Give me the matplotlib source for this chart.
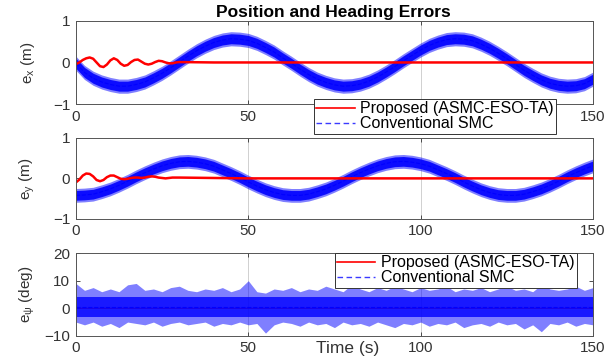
import numpy as np
import matplotlib
matplotlib.use('Agg')
import matplotlib.pyplot as plt
from matplotlib.lines import Line2D

plt.rcParams['font.family'] = ['Liberation Sans', 'DejaVu Sans']
plt.rcParams['mathtext.fontset'] = 'custom'
plt.rcParams['mathtext.rm'] = 'Liberation Sans'

# ---- data ----
# conventional SMC, centre of the noisy trace every 2.5 s
t_smc = np.arange(0, 150.1, 2.5)
ex_smc = [-0.02, -0.24, -0.38, -0.47, -0.53, -0.57, -0.57, -0.53, -0.47, -0.37,
          -0.26, -0.13, 0.01, 0.15, 0.28, 0.39, 0.48, 0.54, 0.57, 0.56,
          0.53, 0.46, 0.36, 0.25, 0.11, -0.02, -0.16, -0.29, -0.40, -0.48,
          -0.54, -0.57, -0.56, -0.52, -0.45, -0.35, -0.23, -0.10, 0.04, 0.17,
          0.30, 0.41, 0.49, 0.55, 0.57, 0.56, 0.52, 0.44, 0.34, 0.22,
          0.09, -0.05, -0.19, -0.31, -0.42, -0.50, -0.55, -0.57, -0.56, -0.51,
          -0.40]
ey_smc = [-0.42, -0.41, -0.39, -0.33, -0.26, -0.17, -0.07, 0.04, 0.14, 0.23,
          0.31, 0.37, 0.41, 0.42, 0.40, 0.36, 0.30, 0.21, 0.12, 0.02,
          -0.09, -0.19, -0.28, -0.35, -0.40, -0.42, -0.42, -0.39, -0.33, -0.26,
          -0.17, -0.07, 0.04, 0.14, 0.23, 0.31, 0.37, 0.41, 0.42, 0.40,
          0.36, 0.30, 0.21, 0.12, 0.02, -0.09, -0.19, -0.28, -0.35, -0.40,
          -0.42, -0.42, -0.39, -0.33, -0.26, -0.17, -0.07, 0.04, 0.14, 0.23,
          0.31]
pos_spread = 0.12   # half width of the dense noise band (m)
pos_spike = 0.17    # half width of occasional spikes (m)

# heading error envelope of the SMC trace (deg)
psi_hi = [9.0, 6.5, 7.5, 6.0, 7.0, 6.0, 8.5, 9.0, 6.5, 7.0,
          6.0, 7.5, 8.0, 6.5, 6.0, 7.0, 6.5, 7.5, 6.0, 7.0,
          10.0, 6.0, 5.5, 7.0, 6.5, 7.5, 6.0, 7.0, 6.5, 8.0,
          7.0, 6.0, 8.5, 7.0, 6.0, 7.5, 6.5, 8.0, 7.0, 6.0,
          7.5, 6.5, 7.0, 8.0, 6.0, 7.0, 6.5, 7.5, 6.0, 7.0,
          8.0, 6.5, 7.0, 6.0, 8.5, 7.0, 6.5, 7.0, 8.0, 6.5,
          7.5]
psi_lo = [-5.0, -6.0, -5.0, -6.5, -5.5, -7.0, -5.0, -5.5, -6.0, -5.0,
          -6.5, -5.5, -5.0, -6.0, -5.5, -5.0, -6.5, -5.5, -6.0, -5.0,
          -6.0, -5.5, -9.0, -6.0, -5.0, -5.5, -6.5, -5.0, -6.0, -5.5,
          -7.0, -5.0, -6.0, -5.5, -6.5, -5.0, -6.0, -7.0, -5.5, -6.0,
          -5.0, -6.5, -5.5, -6.0, -5.0, -7.0, -6.0, -5.5, -6.5, -5.0,
          -6.0, -5.5, -7.5, -6.0, -8.5, -5.5, -6.0, -5.0, -6.5, -5.5,
          -6.0]
psi_core_hi = 4.0
psi_core_lo = -3.0
psi_smc = 0.5

# proposed ASMC-ESO-TA, 1 s steps over the transient then sparse
t_prop = [0, 1, 2, 3, 4, 5, 6, 7, 8, 9, 10, 11, 12, 13, 14, 15, 16, 17, 18, 19,
          20, 21, 22, 23, 24, 25, 26, 27, 28, 29, 30, 40, 50, 60, 70, 80, 90,
          100, 110, 120, 130, 140, 150]
ex_prop = [-0.04, 0.0, 0.06, 0.10, 0.12, 0.09, 0.0, -0.09, -0.11, -0.05,
           0.05, 0.10, 0.06, -0.03, -0.08, -0.06, 0.01, 0.06, 0.07, 0.02,
           -0.03, -0.05, -0.03, 0.01, 0.04, 0.03, 0.0, -0.02, -0.02, 0.0,
           0.01, 0.0, 0.0, 0.0, 0.0, 0.0, 0.0, 0.0, 0.0, 0.0, 0.0, 0.0, 0.0]
ey_prop = [-0.10, -0.03, 0.07, 0.12, 0.11, 0.05, -0.04, -0.07, -0.04, 0.03,
           0.07, 0.07, 0.03, -0.01, -0.02, -0.01, 0.01, 0.02, 0.02, 0.01,
           0.02, 0.04, 0.05, 0.04, 0.02, 0.01, 0.0, 0.01, 0.02, 0.02,
           0.02, 0.01, 0.0, 0.0, 0.0, 0.0, 0.0, 0.0, 0.0, 0.0, 0.0, 0.0, 0.0]
psi_prop = [0.5, 0.0, 0.0, 0.0, 0.0, 0.0, 0.0, 0.0, 0.0, 0.0,
            0.0, 0.0, 0.0, 0.0, 0.0, 0.0, 0.0, 0.0, 0.0, 0.0,
            0.0, 0.0, 0.0, 0.0, 0.0, 0.0, 0.0, 0.0, 0.0, 0.0,
            0.0, 0.0, 0.0, 0.0, 0.0, 0.0, 0.0, 0.0, 0.0, 0.0, 0.0, 0.0, 0.0]

# ---- figure ----
fig = plt.figure(figsize=(6.12, 3.6), dpi=100)
ax1 = fig.add_axes([0.124, 0.711, 0.845, 0.231])
ax2 = fig.add_axes([0.124, 0.392, 0.845, 0.225])
ax3 = fig.add_axes([0.124, 0.067, 0.845, 0.230])

blue = (0, 0, 1)
red = (1, 0, 0)


def style(ax, ylim, yticks, ylabel):
    ax.set_xlim(0, 150)
    ax.set_ylim(*ylim)
    ax.set_xticks([0, 50, 100, 150])
    ax.set_yticks(yticks)
    ax.tick_params(direction='in', length=3, width=0.6, top=True, right=True,
                   labelsize=11, colors='#333333', pad=4)
    ax.grid(axis='x', color='#d0d0d0', lw=0.7)
    ax.set_axisbelow(True)
    for s in ax.spines.values():
        s.set_color('#555555')
        s.set_linewidth(0.7)
    ax.set_ylabel(ylabel, fontsize=11, color='#333333')
    ax.yaxis.set_label_coords(-0.075, 0.5)


for ax, smc, prop in [(ax1, ex_smc, ex_prop), (ax2, ey_smc, ey_prop)]:
    smc = np.array(smc)
    ax.fill_between(t_smc, smc - pos_spike, smc + pos_spike, color=blue,
                    alpha=0.5, lw=0)
    ax.fill_between(t_smc, smc - pos_spread, smc + pos_spread, color=blue,
                    alpha=0.9, lw=0)
    ax.plot(t_smc, smc, '--', color=blue, lw=0.8)
    ax.plot(t_prop, prop, '-', color=red, lw=1.8)

# heading: the proposed trace sits underneath the SMC noise
ax3.plot(t_prop, psi_prop, '-', color=red, lw=0.8, zorder=1)
ax3.fill_between(t_smc, psi_lo, psi_hi, color=blue, alpha=0.5, lw=0,
                 zorder=2)
ax3.fill_between(t_smc, psi_core_lo, psi_core_hi, color=blue, alpha=0.8,
                 lw=0, zorder=2)
ax3.plot(t_smc, np.full(len(t_smc), psi_smc), '--', color=blue, lw=0.8,
         zorder=2)

style(ax1, (-1, 1), [-1, 0, 1], r'$\mathregular{e_x}$ (m)')
style(ax2, (-1, 1), [-1, 0, 1], r'$\mathregular{e_y}$ (m)')
style(ax3, (-10, 20), [-10, 0, 10, 20], r'$\mathregular{e_\psi}$ (deg)')
# the top legend covers the "100" label of the first panel
ax1.set_xticklabels(['0', '50', '', '150'])

# legend entries drawn with thin lines
handles = [Line2D([], [], color=red, lw=1.2),
           Line2D([], [], color='#3a3aff', lw=1.0, ls=(0, (4, 2.5)))]
labels = ['Proposed (ASMC-ESO-TA)', 'Conventional SMC']
leg_kw = dict(fontsize=11.5, fancybox=False, framealpha=1,
              edgecolor='#333333', handlelength=2.4, borderpad=0.15,
              labelspacing=0.0, handletextpad=0.35, borderaxespad=0)

leg1 = fig.legend(handles, labels, loc='upper left',
                  bbox_to_anchor=(0.513, 0.725), **leg_kw)
leg1.get_frame().set_linewidth(0.7)
leg3 = fig.legend(handles, labels, loc='upper left',
                  bbox_to_anchor=(0.547, 0.297), **leg_kw)
leg3.get_frame().set_linewidth(0.7)

fig.text(0.544, 1 - 12 / 360, 'Position and Heading Errors', ha='center',
         va='center', fontsize=12.5, fontweight='bold')
fig.text(0.568, 0.033, 'Time (s)', ha='center', va='center', fontsize=12.5,
         color='#333333')

fig.savefig('out.png', dpi=100)
